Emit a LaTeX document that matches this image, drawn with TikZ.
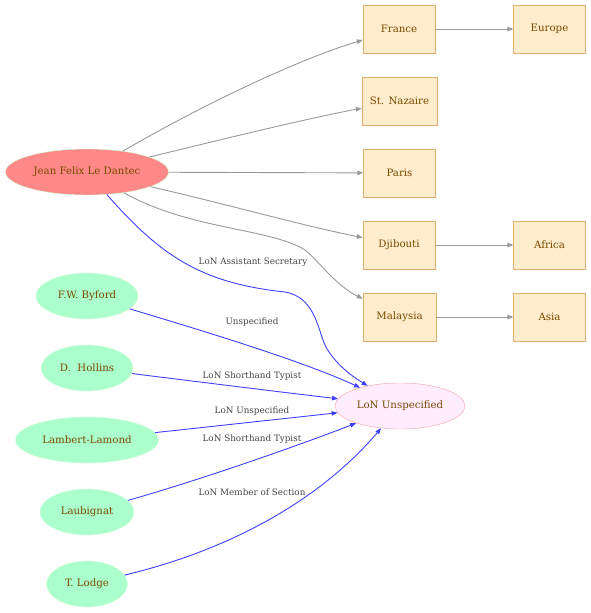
\documentclass[tikz,border=0pt]{standalone}
\usepackage{fontspec}
\setmainfont{DejaVu Serif}
\usetikzlibrary{positioning,arrows.meta,shapes.geometric}
\definecolor{labelbrown}{HTML}{7A4A00}
\definecolor{edgegray}{HTML}{999999}
\definecolor{edgeblue}{HTML}{4040FF}
\definecolor{textgray}{HTML}{444444}
\definecolor{dantecfill}{HTML}{FF8888}
\definecolor{dantecline}{HTML}{CCFFCC}
\definecolor{personfill}{HTML}{AAFFCC}
\definecolor{personline}{HTML}{D8FFD8}
\definecolor{hubfill}{HTML}{FFECFF}
\definecolor{hubline}{HTML}{F0A0A0}
\definecolor{placefill}{HTML}{FFECCC}
\definecolor{placeline}{HTML}{E0B070}
\newcommand\placew{72}
\newcommand\placeh{48}

\begin{document}
\begin{tikzpicture}[x=1pt,y=-1pt,
    every node/.style={font=\fontsize{10.2}{12}\selectfont,text=labelbrown,inner sep=0pt},
    person/.style={ellipse,draw=personline,fill=personfill,minimum height=46pt},
    hub/.style={ellipse,draw=hubline,fill=hubfill,minimum height=46pt},
    place/.style={draw=placeline,fill=placefill,minimum width=\placew pt,minimum height=\placeh pt},
    geo/.style={draw=edgegray,line width=0.9pt,-{Triangle[length=6pt,width=4.5pt]}},
    staff/.style={draw=edgeblue,line width=0.9pt,-{Triangle[length=6pt,width=4.5pt]}},
    role/.style={font=\fontsize{8.8}{10}\selectfont,text=textgray,fill=none}
  ]
    \useasboundingbox (0,0) rectangle (591,613);

    % people
    \node[ellipse,draw=dantecline,fill=dantecfill,minimum width=163pt,minimum height=46pt] (dantec) at (87,172) {Jean Felix Le Dantec};
    \node[person,minimum width=102pt] (byford) at (87,296) {F.W. Byford};
    \node[person,minimum width=92pt] (hollins) at (87,368) {D.\ \ Hollins};
    \node[person,minimum width=143pt] (lambert) at (87,440) {Lambert-Lamond};
    \node[person,minimum width=94pt] (laubignat) at (87,512) {Laubignat};
    \node[person,minimum width=81pt] (lodge) at (87,584) {T. Lodge};
    \node[hub,minimum width=130pt] (lon) at (400,406) {LoN Unspecified};

    % places
    \node[place] (france) at (399,29) {France};
    \node[place] (europe) at (549.5,29) {Europe};
    \node[place,minimum width=75pt] (nazaire) at (399.5,101) {St. Nazaire};
    \node[place] (paris) at (399.5,173) {Paris};
    \node[place] (djibouti) at (399,245) {Djibouti};
    \node[place] (africa) at (549.5,245) {Africa};
    \node[place,minimum width=73pt] (malaysia) at (399.5,317) {Malaysia};
    \node[place] (asia) at (549.5,317) {Asia};

    % geography
    \draw[geo] (dantec) .. controls (190,112) and (290,62) .. (france);
    \draw[geo] (dantec) .. controls (220,140) and (300,120) .. (nazaire);
    \draw[geo] (dantec) -- (paris);
    \draw[geo] (dantec) .. controls (230,205) and (300,225) .. (djibouti);
    \draw[geo] (dantec) .. controls (190,230) and (270,228) .. (305,250)
      .. controls (320,262) and (335,285) .. (malaysia);
    \draw[geo] (france) -- (europe);
    \draw[geo] (djibouti) -- (africa);
    \draw[geo] (malaysia) -- (asia);

    % roles
    \draw[staff] (dantec) .. controls (160,255) and (200,283) .. (285,292)
      .. controls (315,297) and (318,330) .. (325,345)
      .. controls (335,365) and (355,378) .. (lon);
    \draw[staff] (byford) .. controls (200,330) and (300,360) .. (lon);
    \draw[staff] (hollins) .. controls (200,382) and (280,392) .. (lon);
    \draw[staff] (lambert) -- (lon);
    \draw[staff] (laubignat) .. controls (200,480) and (300,445) .. (lon);
    \draw[staff] (lodge) .. controls (230,550) and (320,500) .. (lon);

    % role labels
    \node[role] (rdantec) at (253,262) {LoN Assistant Secretary};
    \node[role] (rbyford) at (252,322) {Unspecified};
    \node[role] (rhollins) at (252,376) {LoN Shorthand Typist};
    \node[role] (rlambert) at (252,411) {LoN Unspecified};
    \node[role] (rlaubignat) at (252,439) {LoN Shorthand Typist};
    \node[role] (rlodge) at (252,492) {LoN Member of Section};
  \end{tikzpicture}
\end{document}
